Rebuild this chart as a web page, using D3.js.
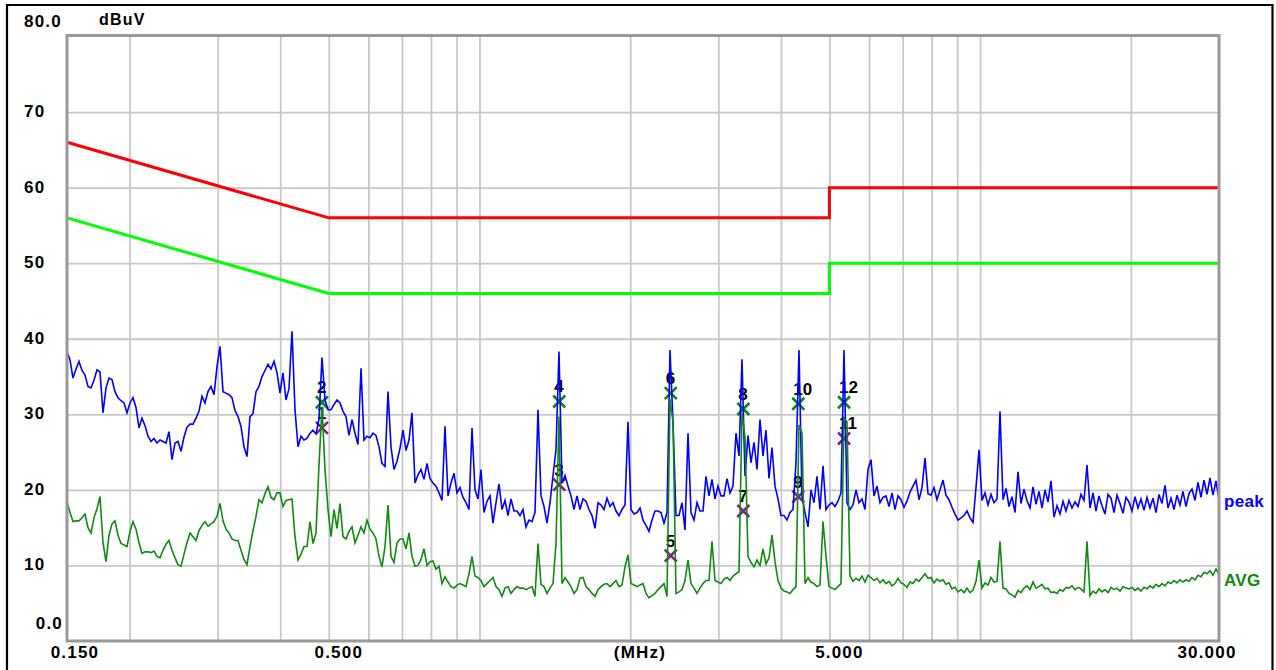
<!DOCTYPE html>
<html>
<head>
<meta charset="utf-8">
<script src="https://cdn.jsdelivr.net/npm/d3@7"></script>
<style>
  body { margin: 0; background: #fff; }
  svg { display: block; }
  text { font-family: "Liberation Sans", Arial, sans-serif; font-weight: bold; }
</style>
</head>
<body>
<svg id="chart" width="1276" height="670"></svg>
<script>
// Receiver sweep (MHz) and measured traces (dBuV), one level per sweep step
const sweepStartMHz = 0.15;
const sweepStopMHz = 30;

const peakLevels = [
  38.3,37.2,34.8,36.0,37.0,35.8,35.2,33.7,33.5,34.5,35.9,35.6,30.2,33.5,34.8,34.6,33.0,32.2,31.8,31.5,
  30.2,31.5,32.2,30.9,28.2,29.5,28.5,27.1,26.4,26.8,26.2,26.6,26.4,26.2,27.7,24.0,26.2,26.4,25.1,27.0,
  28.3,28.7,28.7,29.5,30.4,32.4,31.5,33.0,33.7,32.6,36.3,39.0,33.0,32.8,32.6,32.2,30.5,29.7,28.4,25.7,
  24.4,29.7,30.1,33.0,33.7,35.0,35.8,36.6,36.0,37.0,35.5,32.8,35.5,31.9,33.4,41.0,30.6,25.7,27.1,26.6,
  26.8,27.5,27.9,27.4,29.4,37.5,31.9,30.6,30.6,31.3,31.9,31.5,30.4,29.7,27.2,29.3,27.5,26.0,36.1,26.6,
  27.1,26.9,27.5,27.2,25.7,23.5,23.1,33.0,25.7,22.7,23.8,25.5,27.9,25.2,26.6,30.2,20.9,22.0,22.7,21.4,
  23.5,21.5,20.9,20.5,19.6,18.6,28.4,19.2,20.9,22.2,19.6,20.3,19.0,18.3,17.4,28.2,20.0,18.8,22.7,17.0,
  18.5,19.2,15.6,18.3,20.8,17.4,18.6,16.6,18.8,17.2,17.2,16.6,17.4,15.1,16.0,15.8,17.0,30.6,19.2,17.8,
  15.6,18.3,21.9,25.3,38.3,20.9,21.9,20.5,19.2,17.4,19.2,17.4,18.8,18.5,17.4,16.6,14.9,18.3,18.0,17.4,
  18.9,17.8,18.3,17.2,16.6,17.4,18.0,29.0,17.4,16.8,17.0,17.6,16.0,15.3,14.5,16.0,17.2,17.2,17.0,15.6,
  17.0,38.5,29.0,16.6,16.6,18.3,14.7,27.5,17.0,16.0,18.3,17.2,17.2,21.8,19.2,21.4,18.8,20.5,19.2,19.2,
  21.5,19.6,20.5,27.5,24.5,37.3,21.8,27.2,23.6,26.3,22.7,29.3,24.5,27.9,21.5,25.6,20.5,18.8,16.6,16.6,
  16.0,17.0,17.4,23.6,38.5,19.2,17.0,15.1,20.0,18.3,21.8,17.4,23.2,17.4,18.0,18.3,17.8,18.5,19.6,38.5,
  18.3,17.4,18.0,20.0,18.3,18.8,17.4,22.7,24.0,19.2,20.5,18.3,19.0,19.2,17.8,19.6,17.4,19.2,18.7,17.7,
  18.5,19.7,20.5,21.3,18.7,20.3,24.2,19.5,19.3,20.3,18.7,20.0,21.3,19.3,18.7,17.7,16.8,16.0,16.3,16.6,
  17.2,16.3,15.7,20.3,25.3,18.6,19.6,18.0,19.4,18.3,18.8,30.4,18.7,20.2,17.8,19.1,17.0,22.4,18.2,20.1,
  18.6,17.6,20.4,18.1,19.8,17.6,20.0,18.4,21.2,16.4,17.9,16.8,18.5,17.2,18.6,17.6,18.4,17.8,19.4,18.6,
  23.3,17.6,19.6,17.2,19.2,17.9,16.8,19.4,18.9,17.0,19.3,18.2,16.9,19.0,18.4,17.2,19.1,17.6,18.8,17.3,
  19.0,17.6,18.9,17.0,19.4,18.2,20.6,17.6,18.9,17.4,19.3,18.0,19.8,17.8,19.5,20.1,18.6,21.0,19.0,21.3,
  19.4,21.6,19.3,21.2,18.7
];

const avgLevels = [
  18.4,17.0,15.8,15.9,15.9,16.3,16.8,15.0,14.3,16.3,17.5,19.1,13.0,10.5,14.0,15.5,15.9,14.0,12.9,12.7,
  12.5,14.5,15.8,14.8,13.0,11.6,11.8,11.8,11.7,11.9,11.2,11.0,12.0,12.8,13.3,12.0,11.0,10.1,9.9,11.5,
  13.0,14.3,13.8,13.3,14.6,15.3,15.8,15.2,15.5,15.8,16.5,18.2,15.9,14.8,14.3,13.5,13.3,13.3,12.0,10.8,
  10.1,12.5,14.6,16.5,18.7,18.3,19.5,20.4,19.0,18.7,19.6,19.6,17.8,18.6,18.7,18.8,13.8,10.7,11.5,12.5,
  12.5,15.8,12.9,14.3,23.3,31.0,22.7,17.4,13.8,17.4,14.9,18.2,13.8,13.5,14.5,15.1,13.0,14.0,15.1,14.3,
  16.0,14.8,14.3,13.5,11.2,9.8,12.5,18.0,11.2,10.4,13.0,13.5,13.5,12.2,14.3,11.2,9.9,10.0,10.8,12.2,
  10.0,10.5,10.6,9.5,9.9,7.6,8.5,7.8,7.2,7.0,7.4,7.6,7.4,7.2,8.9,11.2,8.6,8.4,8.0,7.2,
  7.6,8.0,8.4,7.2,6.8,5.9,7.0,7.2,6.3,6.8,7.2,7.0,7.0,6.8,7.0,7.2,5.9,12.9,7.5,7.2,
  6.3,7.0,7.6,12.9,29.7,7.6,8.4,7.8,7.2,6.3,6.8,8.3,8.4,7.2,6.8,6.3,5.9,6.8,7.2,7.5,
  7.6,7.2,7.6,8.0,7.2,7.4,9.8,11.4,7.6,7.4,7.2,7.4,7.6,6.3,5.7,6.0,6.3,6.8,7.2,7.6,
  5.9,32.0,29.0,6.3,6.5,6.8,8.0,10.7,7.6,7.0,6.3,7.0,7.6,8.0,8.0,13.2,8.0,7.8,7.6,8.2,
  8.4,8.0,8.6,8.9,9.2,30.2,27.0,11.2,10.4,9.8,10.7,10.0,12.2,10.2,11.0,14.0,10.5,8.0,7.0,6.6,
  6.5,6.3,6.8,7.2,28.6,27.5,7.6,8.4,7.8,7.6,7.2,7.4,15.8,11.2,7.2,7.0,6.8,7.2,7.6,29.5,
  29.0,8.6,7.9,8.3,8.0,8.6,7.8,8.7,8.4,8.0,8.3,7.7,8.1,7.6,7.9,7.3,7.6,8.3,7.7,7.5,
  7.1,7.8,7.6,8.2,7.9,8.4,8.9,8.3,8.4,7.7,8.2,7.9,8.1,7.5,7.7,6.9,7.1,6.5,6.8,6.4,
  7.0,6.4,6.7,7.9,10.7,7.0,7.7,7.4,8.4,7.8,7.9,13.2,7.0,6.9,6.3,6.1,5.8,6.7,6.4,7.0,
  7.3,6.8,7.8,7.0,7.2,7.5,6.9,7.0,6.4,6.5,6.3,6.8,6.6,7.1,7.0,7.3,6.8,7.1,6.9,6.5,
  13.2,6.0,6.6,6.3,6.9,6.5,6.8,6.4,7.1,6.8,7.0,6.6,7.2,7.0,6.9,7.1,6.7,7.0,6.6,7.1,
  6.9,7.3,7.0,7.5,7.2,7.6,7.3,7.8,7.6,8.0,7.7,8.1,7.8,8.1,7.9,8.4,8.1,8.7,8.5,9.1,
  8.9,9.3,8.7,9.5,8.8
];

// Limit lines: QP and AVG
const limitFreqs = [0.15, 0.5, 5, 5, 30];
const qpLimitLevels = [66, 56, 56, 60, 60];
const avgLimitLevels = [56, 46, 46, 50, 50];

// Final-scan markers
const markerNo = [1, 2, 3, 4, 5, 6, 7, 8, 9, 10, 11, 12];
const markerFreq = [0.4845, 0.4845, 1.443, 1.443, 2.41, 2.41, 3.365, 3.365, 4.333, 4.333, 5.348, 5.348];
const markerLevel = [28.2, 31.6, 20.7, 31.7, 11.3, 32.8, 17.2, 30.7, 19.1, 31.4, 26.8, 31.6];
const markerDetector = ["AVG", "QP", "AVG", "QP", "AVG", "QP", "AVG", "QP", "AVG", "QP", "AVG", "QP"];

// Axes
const gridFreqs = [0.2, 0.3, 0.4, 0.5, 0.6, 0.7, 0.8, 0.9, 1, 2, 3, 4, 5, 6, 7, 8, 9, 10, 20];
const gridLevels = [10, 20, 30, 40, 50, 60, 70];
const levelTicks = [80, 70, 60, 50, 40, 30, 20, 10, 0];
const levelTickLabels = ["80.0", "70", "60", "50", "40", "30", "20", "10", "0.0"];
const freqTicks = [0.15, 0.5, 5, 30];
const freqTickLabels = ["0.150", "0.500", "5.000", "30.000"];

(function draw() {
  const svg = d3.select("#chart");
  const plotLeft = 67, plotRight = 1219, plotTop = 36.5, plotBottom = 641;

  const x = d3.scaleLog().domain([sweepStartMHz, sweepStopMHz]).range([plotLeft, plotRight]);
  const y = d3.scaleLinear().domain([0, 80]).range([plotBottom, plotTop]);

  const sweepFreqs = peakLevels.map((_, i) =>
    sweepStartMHz * Math.pow(sweepStopMHz / sweepStartMHz, i / (peakLevels.length - 1)));

  svg.append("rect").attr("width", 1276).attr("height", 670).attr("fill", "#fff");

  // outer window border
  svg.append("path")
    .attr("d", "M7,672V5H1272.5V672")
    .attr("fill", "none").attr("stroke", "#000").attr("stroke-width", 2.2);

  // grid
  const gridG = svg.append("g").attr("class", "grid");
  gridG.append("g")
    .attr("transform", `translate(0,${plotBottom})`)
    .call(d3.axisBottom(x).tickValues(gridFreqs).tickSize(-(plotBottom - plotTop)).tickFormat(""))
    .call(g => g.select(".domain").remove())
    .call(g => g.selectAll("line").attr("stroke", "#c8c8c8").attr("stroke-width", 1.8));
  gridG.append("g")
    .attr("transform", `translate(${plotLeft},0)`)
    .call(d3.axisLeft(y).tickValues(gridLevels).tickSize(-(plotRight - plotLeft)).tickFormat(""))
    .call(g => g.select(".domain").remove())
    .call(g => g.selectAll("line").attr("stroke", "#c8c8c8").attr("stroke-width", 1.8));

  // limit lines
  const limitLine = d3.line().x(d => x(d[0])).y(d => y(d[1]));
  svg.append("path")
    .datum(limitFreqs.map((f, i) => [f, qpLimitLevels[i]]))
    .attr("d", limitLine).attr("fill", "none").attr("stroke", "#ff0000").attr("stroke-width", 3);
  svg.append("path")
    .datum(limitFreqs.map((f, i) => [f, avgLimitLevels[i]]))
    .attr("d", limitLine).attr("fill", "none").attr("stroke", "#00ff00").attr("stroke-width", 3);

  // markers
  const markerColor = { QP: "#0a8a0a", AVG: "#8a1a8a" };
  const mk = svg.append("g").selectAll("g")
    .data(markerNo.map((n, i) => ({ n, f: markerFreq[i], v: markerLevel[i], det: markerDetector[i] })))
    .join("g")
    .attr("transform", d => `translate(${x(d.f)},${y(d.v)})`);
  mk.append("path")
    .attr("d", "M-6,-6L6,6M-6,6L6,-6")
    .attr("stroke", d => markerColor[d.det]).attr("stroke-width", 2.6).attr("fill", "none");
  mk.append("text")
    .attr("x", -5).attr("y", -9)
    .attr("font-size", 17).attr("fill", "#000")
    .text(d => d.n);

  // traces
  const traceLine = d3.line().x(d => x(d[0])).y(d => y(d[1]));
  svg.append("path")
    .datum(sweepFreqs.map((f, i) => [f, peakLevels[i]]))
    .attr("d", traceLine).attr("fill", "none").attr("stroke", "#0000ff").attr("stroke-width", 1.6);
  svg.append("path")
    .datum(sweepFreqs.map((f, i) => [f, avgLevels[i]]))
    .attr("d", traceLine).attr("fill", "none").attr("stroke", "#108a10").attr("stroke-width", 1.6);

  // plot frame
  svg.append("rect")
    .attr("x", plotLeft).attr("y", plotTop - 1)
    .attr("width", plotRight - plotLeft).attr("height", plotBottom - plotTop + 1)
    .attr("fill", "none").attr("stroke", "#999").attr("stroke-width", 3);

  // y tick labels
  svg.append("g").selectAll("text")
    .data(levelTicks.map((v, i) => ({ v, label: levelTickLabels[i] })))
    .join("text")
    .attr("font-size", 17).attr("letter-spacing", 1.2).attr("fill", "#000")
    .attr("text-anchor", d => d.v === 0 ? "end" : "start")
    .attr("x", d => d.v === 0 ? 63 : 24)
    .attr("y", d => d.v === 80 ? y(d.v) - 10 : d.v === 0 ? y(d.v) - 12.5 : y(d.v) + 5)
    .text(d => d.label);

  svg.append("text")
    .attr("x", 99).attr("y", 25)
    .attr("font-size", 16).attr("letter-spacing", 1.2).attr("fill", "#000")
    .text("dBuV");

  // x tick labels
  svg.append("g").selectAll("text")
    .data(freqTicks.map((f, i) => ({ f, label: freqTickLabels[i], i })))
    .join("text")
    .attr("font-size", 17).attr("letter-spacing", 1.2).attr("fill", "#000")
    .attr("text-anchor", "middle")
    .attr("x", d => x(d.f) + (d.i === 0 ? 8 : d.i === freqTicks.length - 1 ? -12 : 10))
    .attr("y", 658)
    .text(d => d.label);

  svg.append("text")
    .attr("x", 640).attr("y", 658).attr("text-anchor", "middle")
    .attr("font-size", 17).attr("letter-spacing", 1.2).attr("fill", "#000")
    .text("(MHz)");

  // trace names
  svg.append("text")
    .attr("x", 1224).attr("y", 507)
    .attr("font-size", 17).attr("letter-spacing", 0.3).attr("fill", "#0000ff")
    .text("peak");
  svg.append("text")
    .attr("x", 1224).attr("y", 586)
    .attr("font-size", 17).attr("letter-spacing", 0.3).attr("fill", "#108a10")
    .text("AVG");
})();
</script>
</body>
</html>
